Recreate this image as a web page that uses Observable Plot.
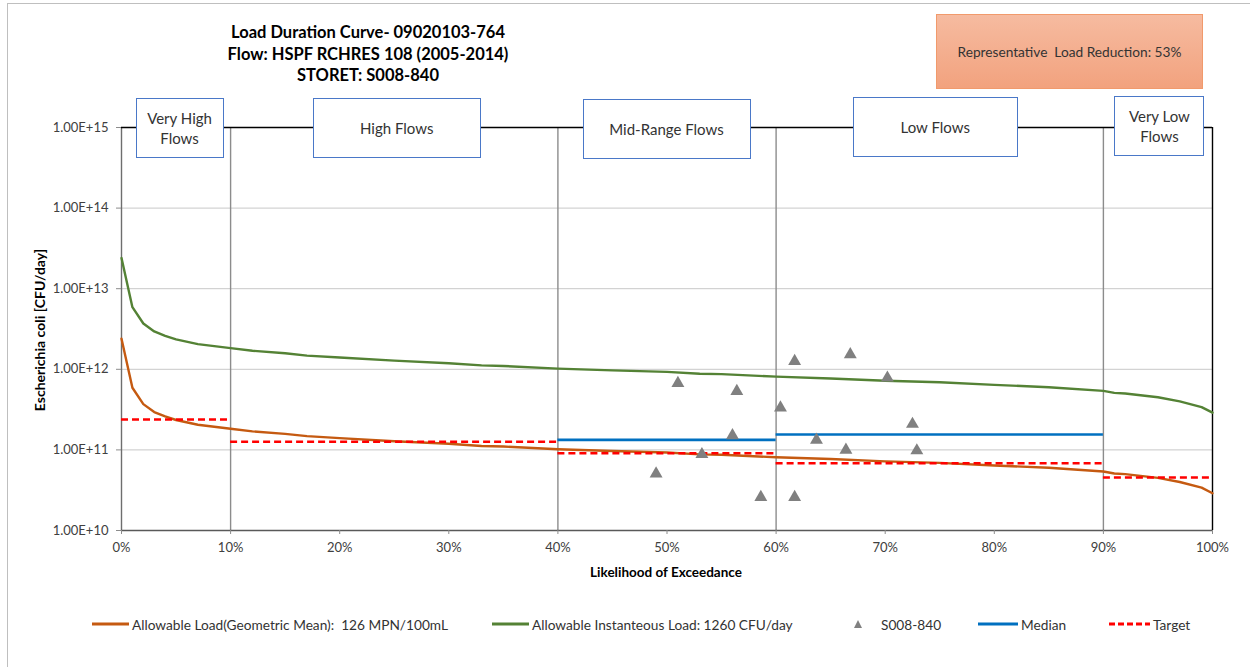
<!DOCTYPE html>
<html><head><meta charset="utf-8">
<script src="https://cdn.jsdelivr.net/npm/d3@7"></script>
<script src="https://cdn.jsdelivr.net/npm/@observablehq/plot@0.6"></script>
<style>
body{margin:0;background:#fff;font-family:Lato,"Open Sans",sans-serif;color:#404040;}
#wrap{position:relative;width:1250px;height:667px;overflow:hidden;background:#fff;}
#wrap svg.plot{position:absolute;left:0;top:0;}
.abs{position:absolute;}
.frame{left:7px;top:3px;width:1300px;height:700px;border-left:1px solid #bfbfbf;border-top:1px solid #bfbfbf;}
.title{left:168px;top:22px;width:400px;text-align:center;font-weight:bold;font-size:16.5px;line-height:21.5px;color:#000;}
.rep{left:936px;top:14px;width:265px;height:73px;border:1px solid #f19a6c;background:linear-gradient(#f6bba0,#f2a27e);display:flex;align-items:center;justify-content:center;font-size:13.7px;color:#333;white-space:pre;}
.zone{height:60px;border:1.5px solid #4a78c8;background:#fff;display:flex;align-items:center;justify-content:center;text-align:center;font-size:15px;line-height:20px;color:#333;box-sizing:border-box;white-space:pre;}
.ylab{left:39px;top:330px;transform:translate(-50%,-50%) rotate(-90deg);font-weight:bold;font-size:14px;color:#000;white-space:nowrap;}
.xlab{left:666px;top:572px;transform:translate(-50%,-50%);font-weight:bold;font-size:13.5px;color:#000;white-space:nowrap;}
.leg{top:615px;height:18px;display:flex;align-items:center;font-size:13.7px;color:#333;white-space:pre;}
.leg svg{margin-right:3px;}
</style></head><body><div id="wrap"></div>
<script>
// ---- data ----
const exceedancePct = [0,1,2,3,4,5,7,10,12,15,17,20,25,30,33,35,40,45,50,53,55,60,65,70,75,80,85,90,91,92,95,97,99,100];
const instantaneousLoad = [2.4e13,5.9e12,3.7e12,2.95e12,2.6e12,2.35e12,2.05e12,1.83e12,1.7e12,1.58e12,1.48e12,1.4e12,1.28e12,1.19e12,1.12e12,1.1e12,1.02e12,9.7e11,9.3e11,8.8e11,8.7e11,8.1e11,7.7e11,7.2e11,6.9e11,6.4e11,6.0e11,5.4e11,5.1e11,5.0e11,4.5e11,4.0e11,3.4e11,2.9e11];
const geometricMeanLoad = [2.4e12,5.9e11,3.7e11,2.95e11,2.6e11,2.35e11,2.05e11,1.83e11,1.7e11,1.58e11,1.48e11,1.4e11,1.28e11,1.19e11,1.12e11,1.1e11,1.02e11,9.7e10,9.3e10,8.8e10,8.7e10,8.1e10,7.7e10,7.2e10,6.9e10,6.4e10,6.0e10,5.4e10,5.1e10,5.0e10,4.5e10,4.0e10,3.4e10,2.9e10];
const zoneLabels = ["Very High\nFlows","High Flows","Mid-Range Flows","Low Flows","Very Low\nFlows"];
const zoneStart = [0,10,40,60,90];
const zoneEnd = [10,40,60,90,100];
const targetLoad = [2.38e11,1.26e11,9.1e10,6.84e10,4.55e10];
const medianStart = [40,60];
const medianEnd = [60,90];
const medianLoad = [1.33e11,1.55e11];
const samplePct = [51.0,56.4,60.4,61.7,66.8,70.2,56.0,63.7,66.4,72.5,72.9,53.2,49.0,58.6,61.7];
const sampleLoad = [6.73e11,5.35e11,3.33e11,1.26e12,1.53e12,7.83e11,1.51e11,1.33e11,1.0e11,2.09e11,9.8e10,8.8e10,5.05e10,2.59e10,2.59e10];
const yTicks = [1e10,1e11,1e12,1e13,1e14,1e15];
const xTicks = [0,10,20,30,40,50,60,70,80,90,100];
const titleLines = ["Load Duration Curve- 09020103-764","Flow: HSPF RCHRES 108 (2005-2014)","STORET: S008-840"];

// ---- styles ----
const C = {geo:"#c55a11", inst:"#548235", median:"#0070c0", target:"#ff0000", sample:"#808080"};
const zoneBoxStyle = [{w:88,dx:4,top:98},{w:168,dx:3,top:98},{w:168,dx:0,top:99},{w:165,dx:-4,top:97},{w:90,dx:2,top:96}];

const curve = exceedancePct.map((p,i)=>({p, inst:instantaneousLoad[i], geo:geometricMeanLoad[i]}));
const targets = zoneStart.map((s,i)=>({x1:s, x2:zoneEnd[i], y:targetLoad[i]}));
const medians = medianStart.map((s,i)=>({x1:s, x2:medianEnd[i], y:medianLoad[i]}));
const samples = samplePct.map((p,i)=>({p, v:sampleLoad[i]}));
const bounds = zoneStart.slice(1);

const plot = Plot.plot({
  width:1250, height:667,
  marginLeft:121, marginRight:38, marginTop:127, marginBottom:137,
  style:{fontFamily:"Lato, 'Open Sans', sans-serif", fontSize:"13px", color:"#404040", background:"transparent", overflow:"visible"},
  x:{domain:[0,100], label:null},
  y:{type:"log", domain:[1e10,1e15], label:null},
  marks:[
    Plot.ruleY(yTicks, {stroke:"#c8c8c8", strokeWidth:1}),
    Plot.ruleX(bounds, {stroke:"#8c8c8c", strokeWidth:1.4}),
    Plot.ruleX([0], {stroke:"#6e6e6e", strokeWidth:1.4}),
    Plot.ruleY([1e10], {stroke:"#595959", strokeWidth:1.4}),
    Plot.ruleY([1e15], {stroke:"#000", strokeWidth:1.4}),
    Plot.ruleX([100], {stroke:"#000", strokeWidth:1.4}),
    Plot.line(curve, {x:"p", y:"inst", stroke:C.inst, strokeWidth:2.4}),
    Plot.line(curve, {x:"p", y:"geo", stroke:C.geo, strokeWidth:2.4}),
    Plot.ruleY(medians, {x1:"x1", x2:"x2", y:"y", stroke:C.median, strokeWidth:2.6}),
    Plot.ruleY(targets, {x1:"x1", x2:"x2", y:"y", stroke:C.target, strokeWidth:2.6, strokeDasharray:"7,4"}),
    Plot.dot(samples, {x:"p", y:"v", symbol:"triangle", r:4.8, fill:C.sample, stroke:"none"}),
    Plot.axisX({ticks:xTicks, tickFormat:d=>d+"%", tickSize:4, tickPadding:8, stroke:"#8c8c8c", label:null}),
    Plot.axisY({ticks:yTicks, tickFormat:d=>d.toExponential(2).toUpperCase(), tickSize:5, tickPadding:8, stroke:"#8c8c8c", label:null})
  ]
});
plot.classList.add("plot");
const wrap = document.getElementById("wrap");
wrap.appendChild(plot);

function add(cls, text){ const d=document.createElement("div"); d.className="abs "+cls; if(text!=null) d.textContent=text; wrap.appendChild(d); return d; }
add("frame");
add("title").innerHTML = titleLines.join("<br>");
add("rep","Representative  Load Reduction: 53%");
const xs = plot.scale("x");
zoneLabels.forEach((lab,i)=>{
  const st = zoneBoxStyle[i];
  const mid = xs.apply((zoneStart[i]+zoneEnd[i])/2) + st.dx;
  const d = add("zone", lab);
  d.style.left = (mid - st.w/2)+"px";
  d.style.width = st.w+"px";
  d.style.top = st.top+"px";
});
add("ylab","Escherichia coli [CFU/day]");
add("xlab","Likelihood of Exceedance");

// legend
const legendItems = [
  {left:92, label:"Allowable Load(Geometric Mean):  126 MPN/100mL", kind:"line", color:C.geo, w:37},
  {left:492, label:"Allowable Instanteous Load: 1260 CFU/day", kind:"line", color:C.inst, w:37},
  {left:852, label:"S008-840", kind:"tri", color:C.sample, w:26},
  {left:978, label:"Median", kind:"line", color:C.median, w:40},
  {left:1109, label:"Target", kind:"dash", color:C.target, w:41}
];
legendItems.forEach(it=>{
  const d = add("leg");
  d.style.left = it.left+"px";
  let sw;
  if(it.kind==="tri") sw = `<svg width="${it.w}" height="12"><path d="M6,2 L10,10 L2,10 Z" fill="${it.color}"/></svg>`;
  else sw = `<svg width="${it.w}" height="6"><line x1="0" x2="${it.w}" y1="3" y2="3" stroke="${it.color}" stroke-width="3" ${it.kind==="dash"?'stroke-dasharray="6,3"':''}/></svg>`;
  d.innerHTML = sw + "<span></span>";
  d.querySelector("span").textContent = it.label;
});
</script></body></html>
